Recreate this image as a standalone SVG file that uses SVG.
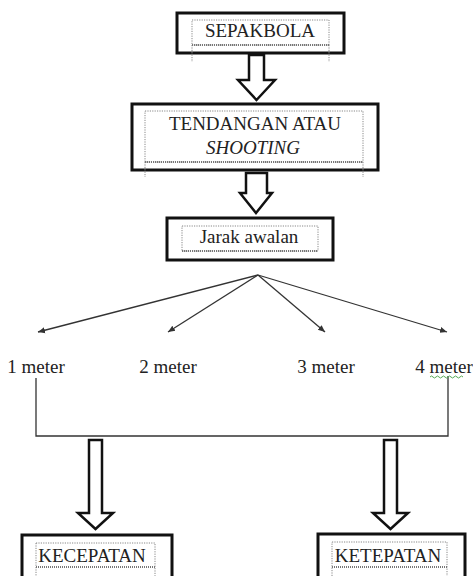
<svg xmlns="http://www.w3.org/2000/svg" width="473" height="576" viewBox="0 0 473 576">
<style>
.box{fill:#fff;stroke:#111;stroke-width:3}
.dot{fill:none;stroke:#888;stroke-width:1;stroke-dasharray:1.2 1.2}
.wav{fill:none;stroke:#777;stroke-width:2;stroke-dasharray:1 1}
.t{font-family:"Liberation Serif","Times New Roman",serif;font-size:19px;fill:#222;text-anchor:middle}
.blk{fill:#fff;stroke:#111;stroke-width:2.5;stroke-linejoin:miter}
.ln{fill:none;stroke:#333;stroke-width:1.3}
</style>
<defs>
<marker id="ah" markerWidth="8" markerHeight="8" refX="7" refY="4" orient="auto" markerUnits="userSpaceOnUse">
<path d="M0,1 L7,4 L0,7 Z" fill="#333"/>
</marker>
</defs>
<rect width="473" height="576" fill="#fff"/>
<g id="connectors">
<path class="blk" d="M249,55 H264 V80 H275 L256.5,100 L238,80 H249 Z"/>
<path class="blk" d="M246,173 H267 V193 H272 L256,213 L240,193 H246 Z"/>
<line class="ln" x1="258" y1="275" x2="38" y2="332" marker-end="url(#ah)"/>
<line class="ln" x1="258" y1="275" x2="168" y2="332" marker-end="url(#ah)"/>
<line class="ln" x1="258" y1="275" x2="325" y2="332" marker-end="url(#ah)"/>
<line class="ln" x1="258" y1="275" x2="447" y2="332" marker-end="url(#ah)"/>
<path class="ln" d="M36,378 V436 H448 V376"/>
<path class="blk" d="M89,440 H102 V513 H113 L95.5,529 L78,513 H89 Z"/>
<path class="blk" d="M384,440 H397 V513 H408 L390.5,529 L373,513 H384 Z"/>
</g>
<g id="sepakbola">
<rect class="box" x="177" y="13" width="167" height="40"/>
<rect class="dot" x="192" y="20" width="137" height="25"/>
<line class="dot" x1="192" y1="45" x2="192" y2="62"/>
<line class="dot" x1="329" y1="45" x2="329" y2="62"/>
<line class="wav" x1="192" y1="45" x2="329" y2="45"/>
<text class="t" x="260" y="37">SEPAKBOLA</text>
</g>
<g id="tendangan">
<rect class="box" x="132" y="104" width="246" height="66"/>
<rect class="dot" x="145" y="111" width="218" height="51"/>
<line class="dot" x1="145" y1="162" x2="145" y2="177"/>
<line class="dot" x1="363" y1="162" x2="363" y2="177"/>
<line class="wav" x1="145" y1="162" x2="363" y2="162"/>
<text class="t" x="255" y="130">TENDANGAN ATAU</text>
<text class="t" x="253" y="154" font-style="italic">SHOOTING</text>
</g>
<g id="jarak">
<rect class="box" x="167" y="218" width="166" height="42"/>
<rect class="dot" x="182" y="226" width="136" height="25"/>
<line class="wav" x1="182" y1="251" x2="318" y2="251"/>
<text class="t" x="249" y="243">Jarak awalan</text>
</g>
<g id="m1"><text class="t" x="36" y="373">1 meter</text></g>
<g id="m2"><text class="t" x="168" y="373">2 meter</text></g>
<g id="m3"><text class="t" x="326" y="373">3 meter</text></g>
<g id="m4"><text class="t" x="444" y="373">4 meter</text>
<path d="M430,377 q1.5,-2 3,0 t3,0 t3,0 t3,0 t3,0 t3,0 t3,0 t3,0 t3,0 t3,0 t3,0" fill="none" stroke="#5a5" stroke-width="1"/></g>
<g id="kecepatan">
<rect class="box" x="22" y="535" width="150" height="50"/>
<rect class="dot" x="36" y="543" width="119" height="40"/>
<line class="wav" x1="36" y1="567" x2="155" y2="567"/>
<text class="t" x="92" y="562">KECEPATAN</text>
</g>
<g id="ketepatan">
<rect class="box" x="318" y="534" width="147" height="50"/>
<rect class="dot" x="332" y="542" width="115" height="40"/>
<line class="wav" x1="332" y1="567" x2="447" y2="567"/>
<text class="t" x="388" y="562">KETEPATAN</text>
</g>
</svg>
